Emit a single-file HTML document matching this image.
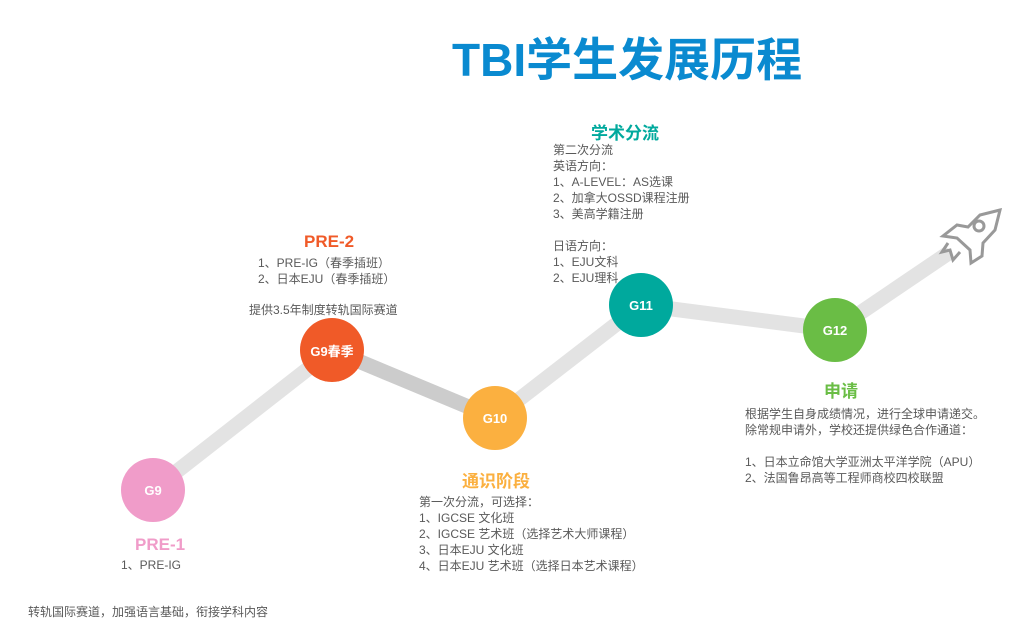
<!DOCTYPE html>
<html><head><meta charset="utf-8"><style>
body{margin:0;width:1024px;height:640px;background:#fff;position:relative;overflow:hidden;font-family:"Liberation Sans","Noto Sans CJK SC",sans-serif;}
.t{position:absolute;font-size:12px;color:#595959;line-height:16px;white-space:nowrap}
.h{position:absolute;font-weight:bold;font-size:17px;white-space:nowrap}
.c{position:absolute;border-radius:50%;color:#fff;font-weight:bold;font-size:13px;display:flex;align-items:center;justify-content:center;width:64px;height:64px}
</style></head><body>
<div style="position:absolute;left:452px;top:24px;font-size:46px;font-weight:bold;color:#0a8ad0;white-space:nowrap">TBI学生发展历程</div>
<svg width="1024" height="640" style="position:absolute;left:0;top:0">
<g stroke-width="15" stroke-linecap="butt">
<line x1="153" y1="490" x2="332" y2="350" stroke="#e3e3e3"/>
<line x1="332" y1="350" x2="495" y2="418" stroke="#cccccc"/>
<line x1="495" y1="418" x2="641" y2="305" stroke="#e3e3e3"/>
<line x1="641" y1="305" x2="835" y2="330" stroke="#e3e3e3"/>
<line x1="835" y1="330" x2="950" y2="252" stroke="#e3e3e3"/>
</g>
<g fill="none" stroke="#999" stroke-width="3" stroke-linejoin="miter">
<path d="M1000,210 L980,215 L968,227 L957,225 L943,236 L957,238 L970,250 L971,263 L982,256 L983,243 L995,230 Z" fill="#fff"/>
<circle cx="979" cy="226" r="5"/>
<path d="M948,243 L942,252 L950,250 L953,260 L960,252"/>
</g>
</svg>
<div class="c" style="left:121px;top:458px;background:#f09cc9">G9</div>
<div class="c" style="left:300px;top:318px;background:#f05a28">G9春季</div>
<div class="c" style="left:463px;top:386px;background:#fbb040">G10</div>
<div class="c" style="left:609px;top:273px;background:#00a99d">G11</div>
<div class="c" style="left:803px;top:298px;background:#6abd45">G12</div>

<div class="h" style="left:304px;top:232px;color:#f05a28">PRE-2</div>
<div class="t" style="left:258px;top:255px">1、PRE-IG（春季插班）<br>2、日本EJU（春季插班）</div>
<div class="t" style="left:249px;top:302px">提供3.5年制度转轨国际赛道</div>

<div class="h" style="left:135px;top:535px;color:#f09cc9">PRE-1</div>
<div class="t" style="left:121px;top:557px">1、PRE-IG</div>
<div class="t" style="left:28px;top:604px">转轨国际赛道，加强语言基础，衔接学科内容</div>

<div class="h" style="left:462px;top:467px;color:#fbb040">通识阶段</div>
<div class="t" style="left:419px;top:494px">第一次分流，可选择：<br>1、IGCSE 文化班<br>2、IGCSE 艺术班（选择艺术大师课程）<br>3、日本EJU 文化班<br>4、日本EJU 艺术班（选择日本艺术课程）</div>

<div class="h" style="left:591px;top:119px;color:#00a99d">学术分流</div>
<div class="t" style="left:553px;top:142px">第二次分流<br>英语方向：<br>1、A-LEVEL：AS选课<br>2、加拿大OSSD课程注册<br>3、美高学籍注册<br><br>日语方向：<br>1、EJU文科<br>2、EJU理科</div>

<div class="h" style="left:824px;top:377px;color:#6abd45">申请</div>
<div class="t" style="left:745px;top:406px">根据学生自身成绩情况，进行全球申请递交。<br>除常规申请外，学校还提供绿色合作通道：<br><br>1、日本立命馆大学亚洲太平洋学院（APU）<br>2、法国鲁昂高等工程师商校四校联盟</div>
</body></html>
